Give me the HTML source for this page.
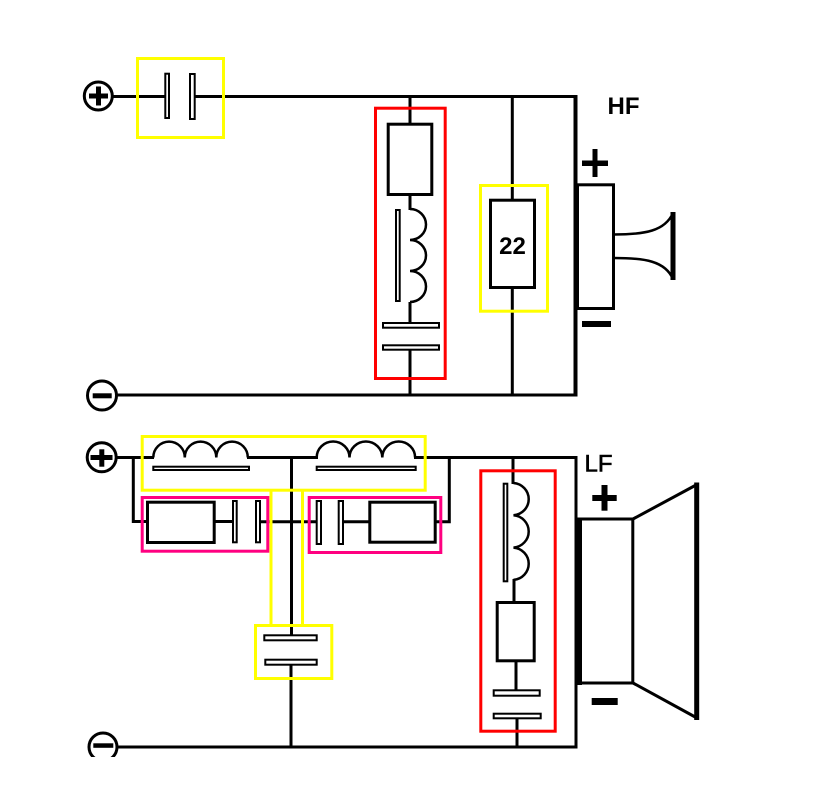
<!DOCTYPE html>
<html>
<head>
<meta charset="utf-8">
<style>
  html, body { margin: 0; padding: 0; background: #ffffff; }
  svg { display: block; }
  text { font-family: "Liberation Sans", Arial, sans-serif; }
</style>
</head>
<body>
<svg width="833" height="788" viewBox="0 0 833 788" xmlns="http://www.w3.org/2000/svg">
  <rect x="0" y="0" width="833" height="788" fill="#ffffff"/>

  <!-- ================= TOP (HF) CIRCUIT ================= -->
  <g stroke="#000" stroke-width="3" fill="none">
    <circle cx="98.3" cy="96" r="14"/>
    <line x1="112" y1="96.5" x2="166" y2="96.5"/>
    <line x1="193" y1="96.5" x2="577" y2="96.5"/>
    <circle cx="102" cy="395.5" r="14.5"/>
    <line x1="116" y1="395" x2="577" y2="395"/>
    <line x1="575.5" y1="95" x2="575.5" y2="396.5" stroke-width="4"/>

    <line x1="410" y1="96" x2="410" y2="124"/>
    <rect x="388.2" y="124.2" width="43.6" height="70.3"/>
    <line x1="410" y1="195" x2="410" y2="210"/>
    <path d="M410,209 a16,15.5 0 0 1 0,31 a16,15.5 0 0 1 0,31 a16,15.5 0 0 1 0,31" stroke-width="2.5"/>
    <line x1="410" y1="302" x2="410" y2="323"/>
    <line x1="410" y1="350" x2="410" y2="395"/>

    <line x1="512.3" y1="96" x2="512.3" y2="200"/>
    <rect x="490.5" y="200.2" width="44" height="87.3"/>
    <line x1="512.3" y1="288" x2="512.3" y2="395"/>

    <rect x="577.5" y="184.8" width="36" height="123.7"/>
    <path d="M614,234.5 C645,234.5 665,231 673,213" stroke-width="2.5"/>
    <path d="M614,258 C645,258 665,261 673,279" stroke-width="2.5"/>
    <line x1="673" y1="212" x2="673" y2="280" stroke-width="5"/>
  </g>

  <g stroke="#000" stroke-width="2" fill="#fff">
    <rect x="165.3" y="73.7" width="3.7" height="44.3"/>
    <rect x="190" y="74" width="4.7" height="45"/>
    <rect x="396" y="210" width="3.7" height="91"/>
    <rect x="383" y="323" width="56" height="4.7"/>
    <rect x="383" y="345.3" width="56" height="4.4"/>
  </g>

  <g fill="#000">
    <rect x="89" y="93.5" width="19" height="5"/>
    <rect x="96" y="86.5" width="5" height="19"/>
    <rect x="92.7" y="393.3" width="19" height="5"/>
    <rect x="582" y="160.5" width="26" height="5.5"/>
    <rect x="592.5" y="149" width="5" height="28"/>
    <rect x="582" y="321" width="29" height="6"/>
  </g>

  <text x="512.5" y="254" font-size="24" font-weight="bold" text-anchor="middle" fill="#000">22</text>
  <text x="607.5" y="114" font-size="24" font-weight="bold" fill="#000">HF</text>

  <g fill="none" stroke-width="3">
    <rect x="137.5" y="58.5" width="86" height="79" stroke="#ffff00"/>
    <rect x="375.5" y="108.2" width="69.7" height="270.3" stroke="#ff0000"/>
    <rect x="480.5" y="185.5" width="67" height="125.7" stroke="#ffff00"/>
  </g>

  <!-- ================= BOTTOM (LF) CIRCUIT ================= -->
  <g stroke="#000" stroke-width="3" fill="none">
    <circle cx="101.7" cy="457.3" r="14.5"/>
    <line x1="116" y1="457.5" x2="154" y2="457.5"/>
    <path d="M153.3,457.5 a15.7,15.8 0 0 1 31.5,0 a15.7,15.8 0 0 1 31.5,0 a15.7,15.8 0 0 1 31.5,0" stroke-width="2.5"/>
    <line x1="247" y1="457.5" x2="318" y2="457.5"/>
    <path d="M316.7,457.5 a16.4,16 0 0 1 32.8,0 a16.4,16 0 0 1 32.8,0 a16.4,16 0 0 1 32.8,0" stroke-width="2.5"/>
    <line x1="414" y1="457.5" x2="577" y2="457.5"/>

    <polyline points="133.3,457.5 133.3,521.5 147,521.5"/>
    <rect x="147.5" y="502.2" width="66.7" height="40.3"/>
    <line x1="214" y1="521.5" x2="233" y2="521.5"/>
    <line x1="260" y1="521.7" x2="317" y2="521.7"/>
    <line x1="343" y1="521.7" x2="370" y2="521.7"/>
    <rect x="369.8" y="502.2" width="65.4" height="40"/>
    <polyline points="435,521.7 449.3,521.7 449.3,457.5"/>

    <line x1="291.5" y1="457.5" x2="291.5" y2="635"/>
    <line x1="291" y1="665" x2="291" y2="747"/>

    <circle cx="103" cy="747" r="14"/>
    <line x1="117" y1="747" x2="577" y2="747"/>

    <line x1="576" y1="456" x2="576" y2="748.5"/>

    <line x1="513" y1="457" x2="513" y2="484"/>
    <path d="M513.5,483 a16.5,16.2 0 0 1 0,32.3 a16.5,16.2 0 0 1 0,32.3 a16.5,16.2 0 0 1 0,32.3" stroke-width="2.5"/>
    <line x1="514" y1="579" x2="514" y2="603"/>
    <rect x="497.2" y="602.5" width="37" height="58.3"/>
    <line x1="516" y1="661" x2="516" y2="690"/>
    <line x1="517" y1="719" x2="517" y2="747"/>

    <rect x="578.5" y="519" width="54.3" height="164"/>
    <line x1="579.5" y1="517.5" x2="579.5" y2="685" stroke-width="5"/>
    <line x1="633" y1="519" x2="697" y2="484.5"/>
    <line x1="633" y1="683" x2="697" y2="718"/>
    <line x1="696.7" y1="482.5" x2="696.7" y2="720" stroke-width="5"/>
  </g>

  <g stroke="#000" stroke-width="2" fill="#fff">
    <rect x="153.3" y="466.7" width="95.7" height="3.3"/>
    <rect x="316.7" y="466.7" width="99" height="3.3"/>
    <rect x="233" y="501" width="3.7" height="41.3"/>
    <rect x="256" y="501" width="4" height="41.3"/>
    <rect x="316.7" y="501" width="4.3" height="43"/>
    <rect x="338.7" y="501" width="4.3" height="43"/>
    <rect x="264.3" y="635.3" width="52.4" height="5"/>
    <rect x="265.3" y="659.7" width="51.4" height="5"/>
    <rect x="503.7" y="483.7" width="3.6" height="97.6"/>
    <rect x="493.7" y="690.3" width="46" height="5.4"/>
    <rect x="493.7" y="713.7" width="47" height="4.6"/>
  </g>

  <g fill="#000">
    <rect x="90.5" y="455" width="22" height="5"/>
    <rect x="99.3" y="449.3" width="5" height="17.4"/>
    <rect x="93.3" y="743.3" width="20" height="4.5"/>
    <rect x="592.3" y="495" width="24.4" height="6"/>
    <rect x="601.5" y="485" width="6" height="25.7"/>
    <rect x="591.7" y="698" width="26" height="7"/>
  </g>

  <text x="584.5" y="471.7" font-size="24" fill="#000" stroke="#000" stroke-width="0.6">LF</text>

  <rect x="0" y="757" width="833" height="31" fill="#ffffff"/>

  <g fill="none" stroke-width="3">
    <rect x="142.2" y="436.5" width="283" height="53.7" stroke="#ffff00"/>
    <line x1="271" y1="490" x2="271" y2="626" stroke="#ffff00"/>
    <line x1="302.5" y1="490" x2="302.5" y2="626" stroke="#ffff00"/>
    <rect x="255.5" y="625.5" width="76.3" height="53" stroke="#ffff00"/>
    <rect x="142.2" y="497.5" width="125.6" height="53.7" stroke="#ff0080"/>
    <rect x="309.2" y="497.5" width="131.6" height="55" stroke="#ff0080"/>
    <rect x="480.8" y="470.8" width="74.4" height="260.4" stroke="#ff0000"/>
  </g>
</svg>
</body>
</html>
